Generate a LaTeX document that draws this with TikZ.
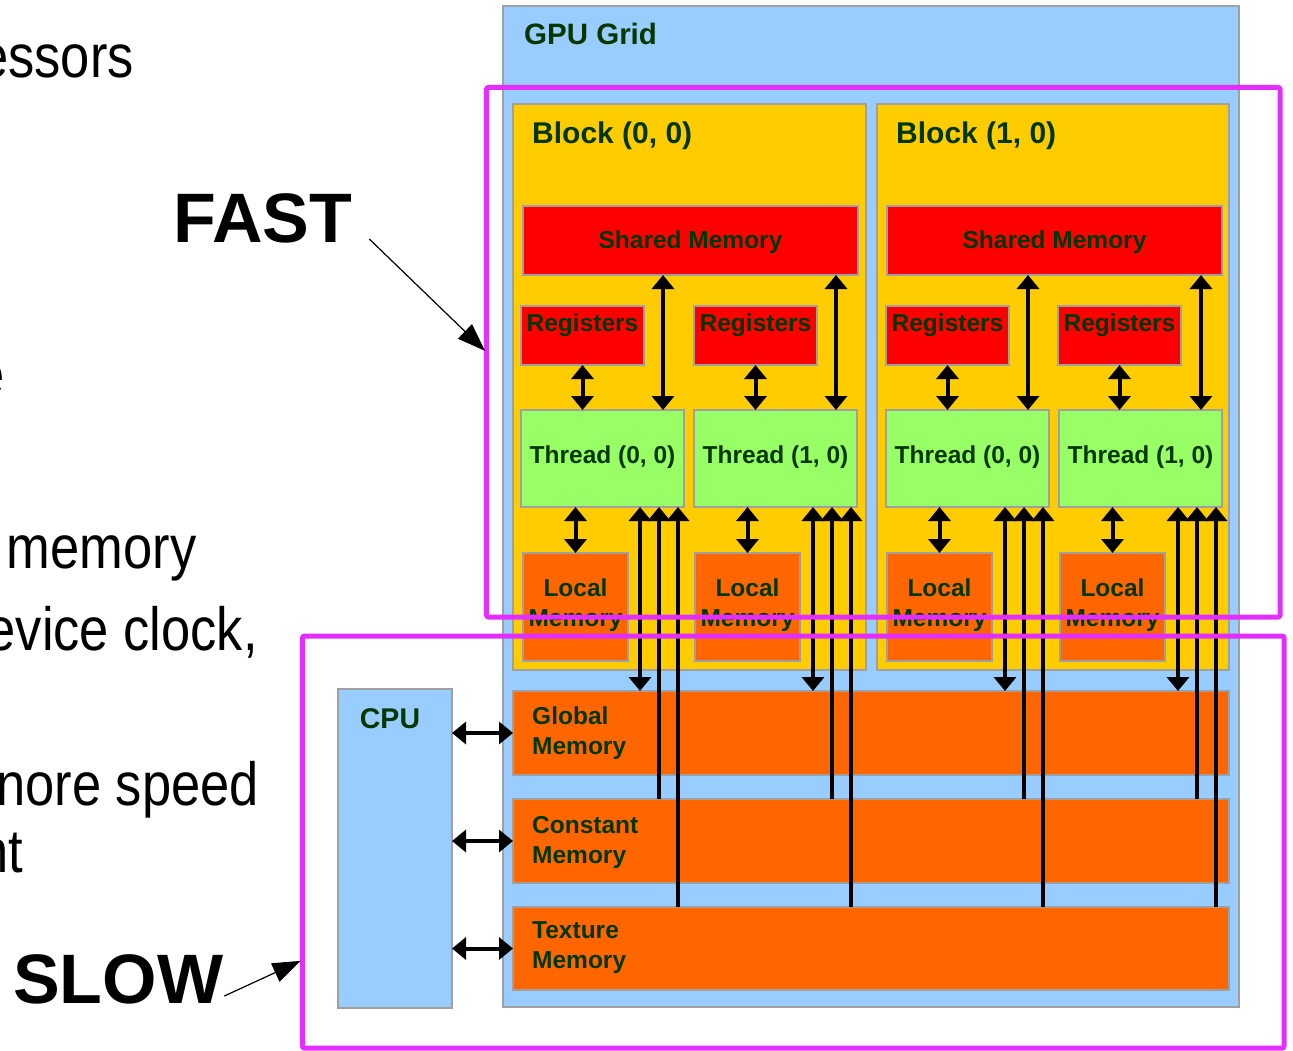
\documentclass[tikz,border=0pt]{standalone}
\usepackage{fontspec}
\setmainfont{Liberation Sans}
\newfontfamily\slidefont[FakeStretch=0.86]{Liberation Sans}
\usetikzlibrary{arrows.meta}
\definecolor{gridblue}{RGB}{153,204,255}
\definecolor{blockyellow}{RGB}{255,204,0}
\definecolor{memred}{RGB}{255,0,0}
\definecolor{threadgreen}{RGB}{153,255,102}
\definecolor{memorange}{RGB}{255,102,0}
\definecolor{boxgray}{RGB}{160,160,160}
\definecolor{labelgreen}{RGB}{0,55,0}
\definecolor{zonemagenta}{RGB}{226,46,255}

\begin{document}
\begin{tikzpicture}[x=1pt,y=-1pt,
  box/.style={draw=boxgray,line width=1.5pt,anchor=north west,inner sep=0pt,outer sep=0pt},
  lbl/.style={text=labelgreen,inner sep=0pt,font=\bfseries\fontsize{24.5}{30}\selectfont},
  big/.style={inner sep=0pt,font=\bfseries\fontsize{70}{80}\selectfont},
  slide/.style={inner sep=0pt,anchor=base east,font=\slidefont\fontsize{61}{70}\selectfont},
  twoway/.style={line width=4pt,{Triangle[length=14pt,width=22pt]}-{Triangle[length=14pt,width=22pt]}},
  oneway/.style={line width=4pt,{Triangle[length=14pt,width=22pt]}-},
  zone/.style={draw=zonemagenta,line width=5pt,rounded corners=2pt,anchor=north west,inner sep=0pt,outer sep=0pt},
  pointer/.style={line width=1.2pt,-{Triangle[length=28pt,width=20pt]}}]
\path[use as bounding box,fill=white] (0,0) rectangle (1293,1051);

\node[box,fill=gridblue,minimum width=736pt,minimum height=1001pt] (grid) at (503,6) {};
\node[box,fill=blockyellow,minimum width=353pt,minimum height=566pt] (blk0) at (513,104) {};
\node[box,fill=blockyellow,minimum width=352pt,minimum height=566pt] (blk1) at (877,104) {};
\node[box,fill=memorange,minimum width=716pt,minimum height=84pt] (glob) at (513,691) {};
\node[box,fill=memorange,minimum width=716pt,minimum height=84pt] (cons) at (513,799) {};
\node[box,fill=memorange,minimum width=716pt,minimum height=83pt] (tex) at (513,907) {};
\node[box,fill=gridblue,minimum width=114pt,minimum height=319pt] (cpu) at (338,689) {};

\node[box,fill=memred,minimum width=335pt,minimum height=69pt] (shm0) at (523,206) {};
\node[box,fill=memred,minimum width=335pt,minimum height=69pt] (shm1) at (887,206) {};
\node[box,fill=memred,minimum width=123pt,minimum height=59pt] (reg00) at (521,306) {};
\node[box,fill=memred,minimum width=123pt,minimum height=59pt] (reg01) at (694,306) {};
\node[box,fill=memred,minimum width=123pt,minimum height=59pt] (reg10) at (886,306) {};
\node[box,fill=memred,minimum width=123pt,minimum height=59pt] (reg11) at (1058,306) {};
\node[box,fill=threadgreen,minimum width=163pt,minimum height=97pt] (thr00) at (521,410) {};
\node[box,fill=threadgreen,minimum width=163pt,minimum height=97pt] (thr01) at (694,410) {};
\node[box,fill=threadgreen,minimum width=163pt,minimum height=97pt] (thr10) at (886,410) {};
\node[box,fill=threadgreen,minimum width=163pt,minimum height=97pt] (thr11) at (1059,410) {};
\node[box,fill=memorange,minimum width=105pt,minimum height=108pt] (loc00) at (523,553) {};
\node[box,fill=memorange,minimum width=105pt,minimum height=108pt] (loc01) at (695,553) {};
\node[box,fill=memorange,minimum width=105pt,minimum height=108pt] (loc10) at (887,553) {};
\node[box,fill=memorange,minimum width=105pt,minimum height=108pt] (loc11) at (1060,553) {};

\node[lbl,anchor=base west,font=\bfseries\fontsize{29.5}{35}\selectfont] (gridlbl) at (524,45) {GPU Grid};
\node[lbl,anchor=base west,font=\bfseries\fontsize{30}{36}\selectfont] (blk0lbl) at (532,144) {Block (0, 0)};
\node[lbl,anchor=base west,font=\bfseries\fontsize{30}{36}\selectfont] (blk1lbl) at (896,144) {Block (1, 0)};
\node[lbl,anchor=base] (shm0lbl) at (690.5,248) {Shared Memory};
\node[lbl,anchor=base] (shm1lbl) at (1054.5,248) {Shared Memory};
\node[lbl,anchor=base] (reg00lbl) at (582.5,331) {Registers};
\node[lbl,anchor=base] (reg01lbl) at (755.5,331) {Registers};
\node[lbl,anchor=base] (reg10lbl) at (947.5,331) {Registers};
\node[lbl,anchor=base] (reg11lbl) at (1119.5,331) {Registers};
\node[lbl,anchor=base] (thr00lbl) at (602.5,463) {Thread (0, 0)};
\node[lbl,anchor=base] (thr01lbl) at (775.5,463) {Thread (1, 0)};
\node[lbl,anchor=base] (thr10lbl) at (967.5,463) {Thread (0, 0)};
\node[lbl,anchor=base] (thr11lbl) at (1140.5,463) {Thread (1, 0)};
\node[lbl,anchor=north,align=center] (loc00lbl) at (575.5,579) {Local\\Memory};
\node[lbl,anchor=north,align=center] (loc01lbl) at (747.5,579) {Local\\Memory};
\node[lbl,anchor=north,align=center] (loc10lbl) at (939.5,579) {Local\\Memory};
\node[lbl,anchor=north,align=center] (loc11lbl) at (1112.5,579) {Local\\Memory};
\node[lbl,anchor=north west,align=left] (globlbl) at (532,707) {Global\\Memory};
\node[lbl,anchor=north west,align=left] (conslbl) at (532,816) {Constant\\Memory};
\node[lbl,anchor=north west,align=left] (texlbl) at (532,921.5) {Texture\\Memory};
\node[lbl,anchor=base,font=\bfseries\fontsize{28.5}{34}\selectfont] (cpulbl) at (390,728) {CPU};

\draw[twoway] (reg00.south) -- (reg00.south |- thr00.north);
\draw[twoway] (reg01.south) -- (reg01.south |- thr01.north);
\draw[twoway] (reg10.south) -- (reg10.south |- thr10.north);
\draw[twoway] (reg11.south) -- (reg11.south |- thr11.north);
\draw[twoway] ([xshift=-21pt]thr00.north east) -- ([xshift=-21pt]thr00.north east |- shm0.south);
\draw[twoway] ([xshift=-21pt]thr01.north east) -- ([xshift=-21pt]thr01.north east |- shm0.south);
\draw[twoway] ([xshift=-21pt]thr10.north east) -- ([xshift=-21pt]thr10.north east |- shm1.south);
\draw[twoway] ([xshift=-21pt]thr11.north east) -- ([xshift=-21pt]thr11.north east |- shm1.south);
\draw[twoway] (loc00.north) -- (loc00.north |- thr00.south);
\draw[twoway] (loc01.north) -- (loc01.north |- thr01.south);
\draw[twoway] (loc10.north) -- (loc10.north |- thr10.south);
\draw[twoway] (loc11.north) -- (loc11.north |- thr11.south);

\draw[twoway] ([xshift=-44pt]thr00.south east) -- ([xshift=-44pt]thr00.south east |- glob.north);
\draw[oneway] ([xshift=-25pt]thr00.south east) -- ([xshift=-25pt]thr00.south east |- cons.north);
\draw[oneway] ([xshift=-6pt]thr00.south east) -- ([xshift=-6pt]thr00.south east |- tex.north);
\draw[twoway] ([xshift=-44pt]thr01.south east) -- ([xshift=-44pt]thr01.south east |- glob.north);
\draw[oneway] ([xshift=-25pt]thr01.south east) -- ([xshift=-25pt]thr01.south east |- cons.north);
\draw[oneway] ([xshift=-6pt]thr01.south east) -- ([xshift=-6pt]thr01.south east |- tex.north);
\draw[twoway] ([xshift=-44pt]thr10.south east) -- ([xshift=-44pt]thr10.south east |- glob.north);
\draw[oneway] ([xshift=-25pt]thr10.south east) -- ([xshift=-25pt]thr10.south east |- cons.north);
\draw[oneway] ([xshift=-6pt]thr10.south east) -- ([xshift=-6pt]thr10.south east |- tex.north);
\draw[twoway] ([xshift=-44pt]thr11.south east) -- ([xshift=-44pt]thr11.south east |- glob.north);
\draw[oneway] ([xshift=-25pt]thr11.south east) -- ([xshift=-25pt]thr11.south east |- cons.north);
\draw[oneway] ([xshift=-6pt]thr11.south east) -- ([xshift=-6pt]thr11.south east |- tex.north);

\draw[twoway] (cpu.east |- glob.west) -- (glob.west);
\draw[twoway] (cpu.east |- cons.west) -- (cons.west);
\draw[twoway] (cpu.east |- tex.west) -- (tex.west);

\node[zone,minimum width=793.5pt,minimum height=529.5pt] (fastzone) at (486.5,87.5) {};
\node[zone,minimum width=981.5pt,minimum height=412pt] (slowzone) at (302.5,636) {};

\node[big,anchor=base west] (fast) at (173,243) {FAST};
\node[big,anchor=base west] (slow) at (13,1003) {SLOW};
\draw[pointer,shorten >=2pt] ([shift={(17,-4)}]fast.base east) -- (fastzone.west);
\draw[pointer,shorten >=2pt] ([shift={(1,-7)}]slow.base east) -- ([yshift=-118pt]slowzone.west);

\node[slide] (line1) at (134,78) {essors};
\node[slide] (line2) at (5,395) {e};
\node[slide,anchor=base west] (line3) at (6.6,568) {memory};
\node[slide] (line4) at (258,650) {evice clock,};
\node[slide] (line5) at (259,805) {nore speed};
\node[slide] (line6) at (23,872) {nt};
\end{tikzpicture}
\end{document}
